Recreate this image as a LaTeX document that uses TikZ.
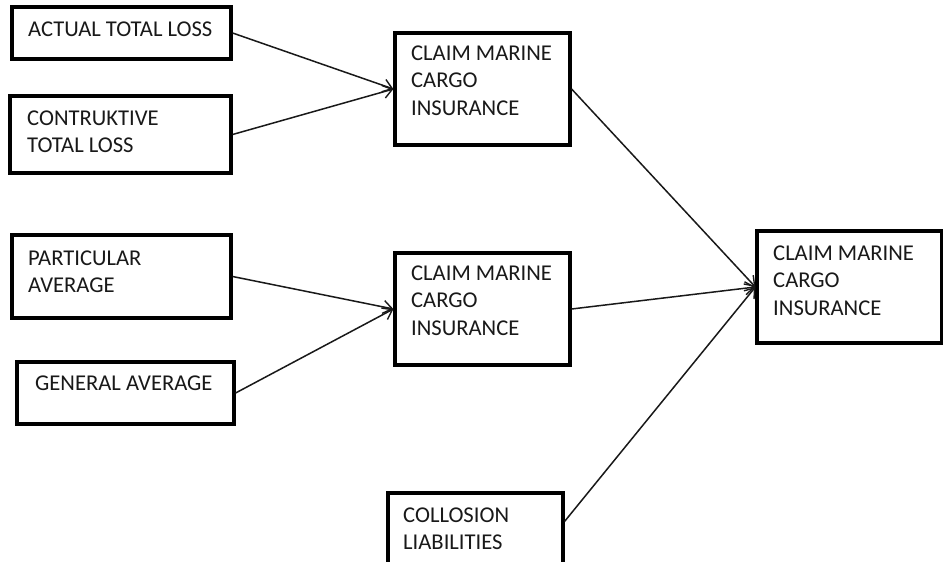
\documentclass[tikz,border=0pt]{standalone}
\usepackage{fontspec}
\setmainfont{Carlito}
\usetikzlibrary{arrows.meta,fit,calc}
\tikzset{
  box/.style={draw=black, line width=3.2pt, inner sep=0pt, fill=white},
  lbl/.style={anchor=north west, inner sep=0pt, align=left, text=black!90,
    font=\fontsize{22.6}{27.5}\selectfont},
  arr/.style={line width=1.5pt, draw=black!90, -{Straight Barb[length=9pt,width=13pt,line width=1.4pt]}},
}
\begin{document}
\begin{tikzpicture}[x=1pt,y=-1pt]
\useasboundingbox (0,0) rectangle (943,562);
\clip (0,0) rectangle (943,562);
\fill[white] (0,0) rectangle (943,562);
% boxes
\node[box, fit={(12,7) (231,59)}] (b1) {};
\node[box, fit={(10,96) (231,173)}] (b2) {};
\node[box, fit={(395,33) (570,145)}] (c1) {};
\node[box, fit={(12,235) (231,318)}] (b3) {};
\node[box, fit={(17,362) (234,424)}] (b4) {};
\node[box, fit={(395,253) (570,365)}] (c2) {};
\node[box, fit={(757,231) (941.2,343)}] (r) {};
\node[box, fit={(388,493) (563,590)}] (c8) {};
% texts
\node[lbl] (t1) at (28,21.5) {ACTUAL TOTAL LOSS};
\node[lbl] (t2) at (27,110.5) {CONTRUKTIVE\\TOTAL LOSS};
\node[lbl] (t3) at (411,45.5) {CLAIM MARINE\\CARGO\\INSURANCE};
\node[lbl] (t4) at (28,250.5) {PARTICULAR\\AVERAGE};
\node[lbl] (t5) at (35,375.5) {GENERAL AVERAGE};
\node[lbl] (t6) at (411,265.5) {CLAIM MARINE\\CARGO\\INSURANCE};
\node[lbl] (t7) at (773,245.5) {CLAIM MARINE\\CARGO\\INSURANCE};
\node[lbl] (t8) at (403,507.5) {COLLOSION\\LIABILITIES};
% connectors
\draw[arr] (b1.east) -- (c1.west);
\draw[arr] (b2.east) -- (c1.west);
\draw[arr] (b3.east) -- (c2.west);
\draw[arr] (b4.east) -- (c2.west);
\draw[arr] (c1.east) -- (r.west);
\draw[arr] (c2.east) -- (r.west);
\draw[arr] ([yshift=-30pt]c8.north east) -- (r.west);
\end{tikzpicture}
\end{document}
